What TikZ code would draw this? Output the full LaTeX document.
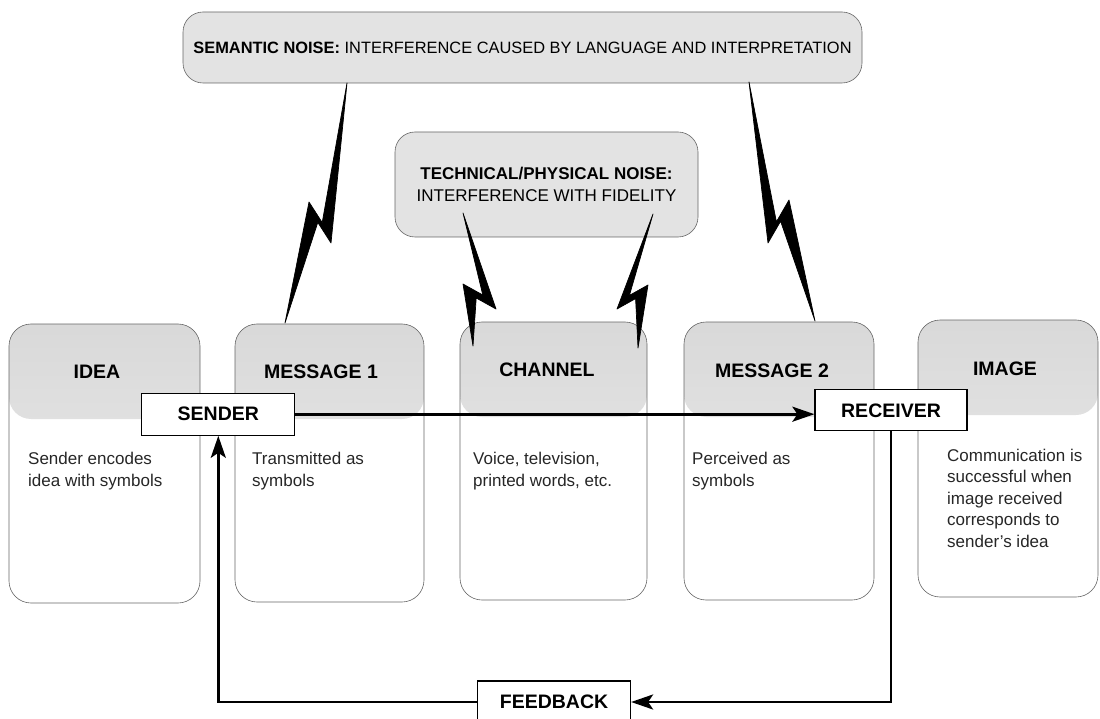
\documentclass[tikz,border=0pt]{standalone}
\usepackage{fontspec}
\setmainfont{Liberation Sans}
\usetikzlibrary{arrows.meta,calc,positioning}

% lightning between a noise box and a panel
\newcommand{\noisebolt}[4]{%
  \filldraw[bolt] (#1) -- (#2) -- ($(#3)!0.4!(#2)+(0,4)$) -- (#4) -- (#3)
    -- ($(#3)!0.6!(#2)+(0,-4)$) -- cycle;}

\begin{document}
\begin{tikzpicture}[x=1pt,y=-1pt,
    panel/.style={draw=black!60, line width=0.6pt, rounded corners=22pt,
      inner sep=0pt, outer sep=0pt,
      path picture={\shade[top color=gray!30, bottom color=white, middle color=gray!22]
        (path picture bounding box.north west) rectangle
        ([yshift=-95pt]path picture bounding box.north east);}},
    noise/.style={draw=black!60, line width=0.6pt, rounded corners=20pt,
      fill=gray!22, inner sep=0pt, align=center},
    role/.style={draw, line width=1.2pt, fill=white, inner sep=0pt,
      minimum width=153pt, minimum height=42pt,
      font=\bfseries\fontsize{19.5}{23}\selectfont},
    title/.style={font=\bfseries\fontsize{19.5}{23}\selectfont},
    body/.style={anchor=base west, align=left, inner sep=0pt, text=black!85,
      font=\fontsize{17}{21.5}\selectfont},
    flow/.style={line width=2.8pt, -{Stealth[length=22pt,width=15pt,inset=5pt]}},
    bolt/.style={fill=black, draw=black, line width=0.7pt, line join=round}]
  \useasboundingbox (0,0) rectangle (1100,719);

  % noise sources
  \node[noise, minimum width=679pt, minimum height=71pt,
    font=\fontsize{16.4}{19}\selectfont] (semantic) at (522.5,47.5)
    {\textbf{SEMANTIC NOISE:} INTERFERENCE CAUSED BY LANGUAGE AND INTERPRETATION};
  \node[noise, minimum width=303pt, minimum height=105pt,
    font=\fontsize{17}{22}\selectfont] (technical) at (546.5,184.5)
    {\textbf{TECHNICAL/PHYSICAL NOISE:}\\INTERFERENCE WITH FIDELITY};

  % the five stages
  \node[panel, minimum width=191pt, minimum height=279pt] (idea) at (104.5,463.5) {};
  \node[panel, minimum width=189pt, minimum height=278pt] (msg1) at (329.5,463) {};
  \node[panel, minimum width=187pt, minimum height=278pt] (channel) at (553.5,461) {};
  \node[panel, minimum width=190pt, minimum height=278pt] (msg2) at (779,461) {};
  \node[panel, minimum width=180pt, minimum height=277pt] (image) at (1008,458.5) {};

  \node[title] (ideat) at (97,372) {IDEA};
  \node[title] (msg1t) at (321,372) {MESSAGE 1};
  \node[title] (channelt) at (547,370) {CHANNEL};
  \node[title] (msg2t) at (772,371) {MESSAGE 2};
  \node[title] (imaget) at (1005,369) {IMAGE};

  % bodies sit on the baseline of their last line
  \node[body] (ideab) at (28,486) {Sender encodes\\idea with symbols};
  \node[body] (msg1b) at (252,486) {Transmitted as\\symbols};
  \node[body] (channelb) at (473,486) {Voice, television,\\printed words, etc.};
  \node[body] (msg2b) at (692,486) {Perceived as\\symbols};
  \node[body] (imageb) at (947,547)
    {Communication is\\successful when\\image received\\corresponds to\\sender's idea};

  % sender, receiver and feedback
  \node[role] (sender) at (218.3,414.2) {SENDER};
  \node[role, minimum width=152pt, minimum height=41pt] (receiver) at (891,410.3) {RECEIVER};
  \node[role] (feedback) at (554,702) {FEEDBACK};

  \draw[flow] (sender.east) -- (sender.east -| receiver.west);
  \draw[flow] (receiver.south) |- (feedback.east);
  \draw[flow] (feedback.west) -| (sender.south);

  % noise bolts
  \noisebolt{347,83}{331,243}{309,202}{285,323}
  \noisebolt{749,82}{768,243}{789,200}{815,321}
  \noisebolt{463,213}{496,309}{463,284}{473,346}
  \noisebolt{653,214}{617,309}{648,285}{638,348}
\end{tikzpicture}
\end{document}
